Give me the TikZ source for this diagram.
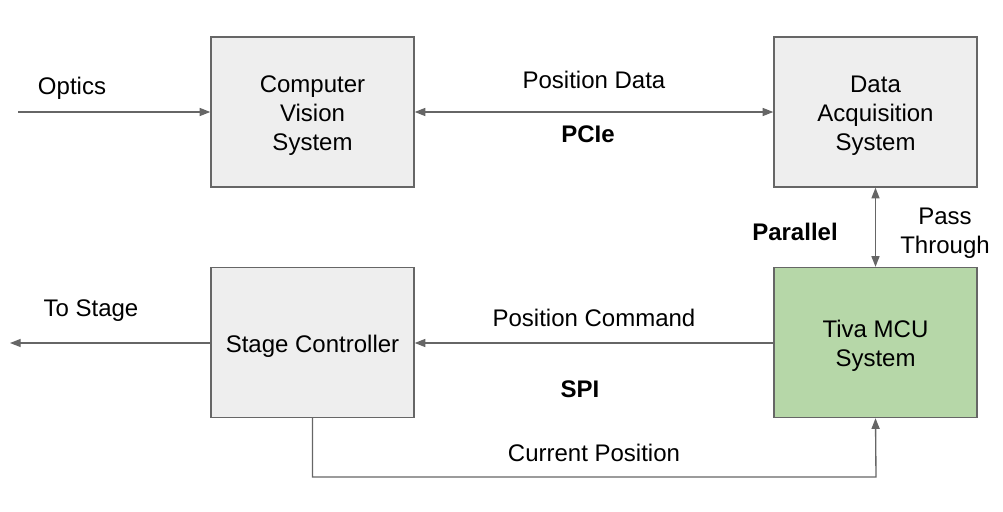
\documentclass[tikz,border=0pt]{standalone}
\usepackage{fontspec}
\setmainfont{Liberation Sans}
\usetikzlibrary{arrows.meta}
\definecolor{boxgray}{HTML}{EEEEEE}
\definecolor{boxgreen}{HTML}{B6D7A8}
\definecolor{linegray}{HTML}{666666}
\tikzset{
  blk/.style={draw=linegray, line width=1pt, fill=boxgray, minimum width=152.25pt, minimum height=112.5pt, inner sep=0pt},
  conn/.style={draw=linegray, line width=1pt},
  arr/.style={conn, -{Triangle[length=8pt,width=6pt]}},
  darr/.style={conn, {Triangle[length=8pt,width=6pt]}-{Triangle[length=8pt,width=6pt]}},
  lbl/.style={font=\fontsize{18}{21.5}\selectfont, align=center, inner sep=0pt},
  blbl/.style={font=\fontsize{18}{21.5}\selectfont\bfseries, inner sep=0pt},
  boxtext/.style={label={[lbl,yshift=-2.7pt]center:{#1}}}
}
\begin{document}
\begin{tikzpicture}[x=0.75pt,y=-0.75pt]
\useasboundingbox (0,0) rectangle (1003,511);
\node[blk, boxtext={Computer\\Vision\\System}] (cvs) at (312.5,112) {};
\node[blk, boxtext={Data\\Acquisition\\System}] (das) at (875.5,112) {};
\node[blk, boxtext={Stage Controller}] (sc) at (312.5,342.5) {};
\node[blk, fill=boxgreen, boxtext={Tiva MCU\\System}] (tiva) at (875.5,342.5) {};
\coordinate (optin) at (18,112);
\coordinate (out) at (10,343);
\coordinate (c2) at (876,477);
\draw[arr] (optin) -- (cvs.west);
\draw[darr] (cvs.east) -- (das.west);
\draw[darr] (das.south) -- (tiva.north);
\draw[arr] (tiva.west |- 0,343) -- (sc.east |- 0,343);
\draw[arr] (sc.west |- 0,343) -- (out);
\draw[arr] (sc.south) |- (c2) -- (tiva.south);
\node[lbl] (l1) at (72,88) {Optics};
\node[lbl] (l2) at (594,80) {Position Data};
\node[blbl] (l3) at (588,134) {PCIe};
\node[blbl] (l4) at (795,232) {Parallel};
\node[lbl] (l5) at (945,233) {Pass\\Through};
\node[lbl] (l6) at (594,318) {Position Command};
\node[blbl] (l7) at (580,389) {SPI};
\node[lbl] (l8) at (91,311) {To Stage};
\node[lbl] (l9) at (594,453) {Current Position};
\end{tikzpicture}
\end{document}
